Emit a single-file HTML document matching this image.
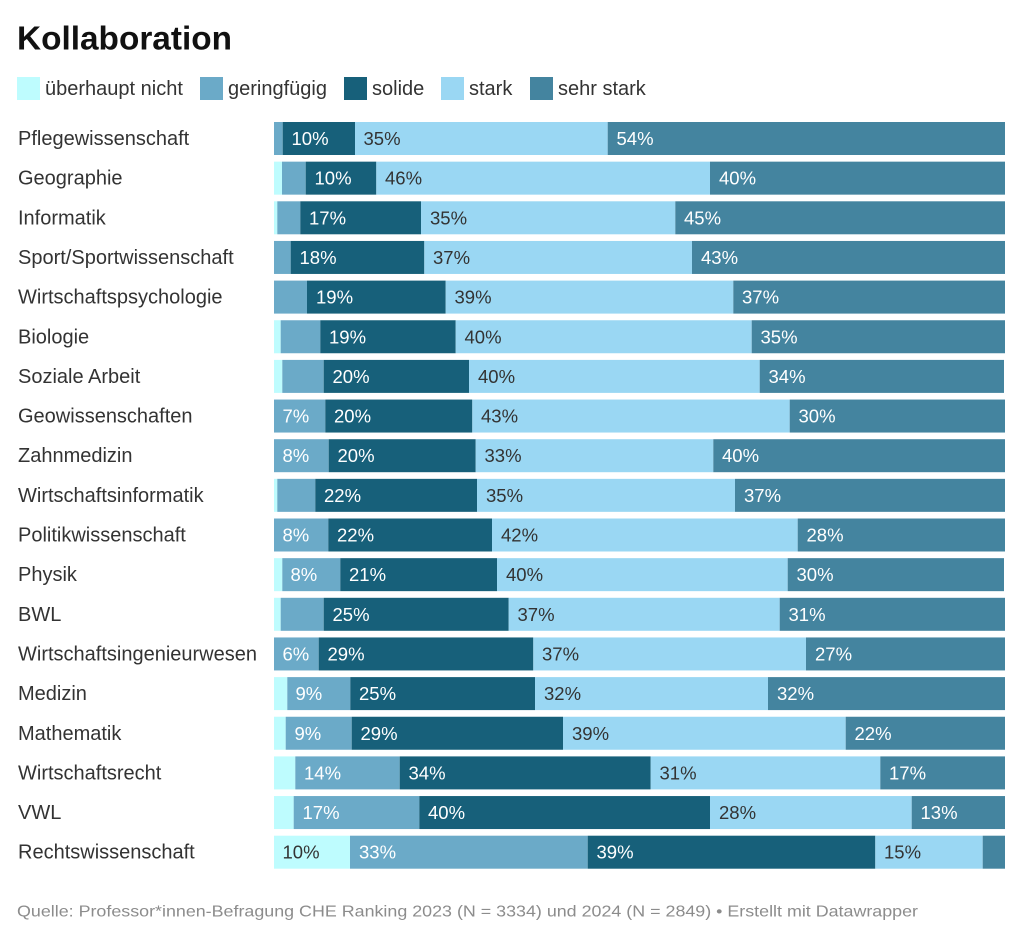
<!DOCTYPE html>
<html><head><meta charset="utf-8"><style>
html,body{margin:0;padding:0;background:#fff;}
svg{display:block;font-family:"Liberation Sans",Arial,sans-serif;}
.lab{font-size:20px;fill:#333;}
.v{font-size:18.5px;}
.w{fill:#fff;}
.d{fill:#333;}
</style></head><body>
<svg width="1024" height="941" viewBox="0 0 1024 941" xmlns="http://www.w3.org/2000/svg">
<text x="17" y="49.5" font-size="33" font-weight="bold" fill="#111" textLength="215" lengthAdjust="spacingAndGlyphs">Kollaboration</text>
<!-- legend -->
<rect x="17" y="77" width="23" height="23" fill="#befcfe"/>
<text x="45" y="95" class="lab">überhaupt nicht</text>
<rect x="200" y="77" width="23" height="23" fill="#6baac8"/>
<text x="228" y="95" class="lab">geringfügig</text>
<rect x="344" y="77" width="23" height="23" fill="#17607a"/>
<text x="372" y="95" class="lab">solide</text>
<rect x="441" y="77" width="23" height="23" fill="#9ad7f3"/>
<text x="469" y="95" class="lab">stark</text>
<rect x="530" y="77" width="23" height="23" fill="#44849f"/>
<text x="558" y="95" class="lab">sehr stark</text>
<text x="17" y="916.5" font-size="16" fill="#8c8c8c" textLength="901" lengthAdjust="spacingAndGlyphs">Quelle: Professor*innen-Befragung CHE Ranking 2023 (N = 3334) und 2024 (N = 2849) • Erstellt mit Datawrapper</text>

<!-- Row 1 -->
<g transform="translate(0,122)">
<text x="18" y="23" class="lab">Pflegewissenschaft</text>
<rect x="274" y="0" width="8.7" height="33" fill="#6baac8"/>
<rect x="282.7" y="0" width="72.3" height="33" fill="#17607a"/>
<rect x="355" y="0" width="252.7" height="33" fill="#9ad7f3"/>
<rect x="607.7" y="0" width="397.3" height="33" fill="#44849f"/>
<text x="291.5" y="23" class="v w">10%</text>
<text x="363.5" y="23" class="v d">35%</text>
<text x="616.5" y="23" class="v w">54%</text>
</g>
<!-- Row 2 -->
<g transform="translate(0,161.65)">
<text x="18" y="23" class="lab">Geographie</text>
<rect x="274" y="0" width="8" height="33" fill="#befcfe"/>
<rect x="282" y="0" width="23.7" height="33" fill="#6baac8"/>
<rect x="305.7" y="0" width="70.6" height="33" fill="#17607a"/>
<rect x="376.3" y="0" width="333.7" height="33" fill="#9ad7f3"/>
<rect x="710" y="0" width="295" height="33" fill="#44849f"/>
<text x="314.5" y="23" class="v w">10%</text>
<text x="385" y="23" class="v d">46%</text>
<text x="719" y="23" class="v w">40%</text>
</g>
<!-- Row 3 -->
<g transform="translate(0,201.3)">
<text x="18" y="23" class="lab">Informatik</text>
<rect x="274" y="0" width="3.3" height="33" fill="#befcfe"/>
<rect x="277.3" y="0" width="23" height="33" fill="#6baac8"/>
<rect x="300.3" y="0" width="120.7" height="33" fill="#17607a"/>
<rect x="421" y="0" width="254.3" height="33" fill="#9ad7f3"/>
<rect x="675.3" y="0" width="329.7" height="33" fill="#44849f"/>
<text x="309" y="23" class="v w">17%</text>
<text x="430" y="23" class="v d">35%</text>
<text x="684" y="23" class="v w">45%</text>
</g>
<!-- Row 4 -->
<g transform="translate(0,240.95)">
<text x="18" y="23" class="lab">Sport/Sportwissenschaft</text>
<rect x="274" y="0" width="16.7" height="33" fill="#6baac8"/>
<rect x="290.7" y="0" width="133.6" height="33" fill="#17607a"/>
<rect x="424.3" y="0" width="267.7" height="33" fill="#9ad7f3"/>
<rect x="692" y="0" width="313" height="33" fill="#44849f"/>
<text x="299.5" y="23" class="v w">18%</text>
<text x="433" y="23" class="v d">37%</text>
<text x="701" y="23" class="v w">43%</text>
</g>
<!-- Row 5 -->
<g transform="translate(0,280.6)">
<text x="18" y="23" class="lab">Wirtschaftspsychologie</text>
<rect x="274" y="0" width="33" height="33" fill="#6baac8"/>
<rect x="307" y="0" width="138.7" height="33" fill="#17607a"/>
<rect x="445.7" y="0" width="287.6" height="33" fill="#9ad7f3"/>
<rect x="733.3" y="0" width="271.7" height="33" fill="#44849f"/>
<text x="316" y="23" class="v w">19%</text>
<text x="454.5" y="23" class="v d">39%</text>
<text x="742" y="23" class="v w">37%</text>
</g>
<!-- Row 6 -->
<g transform="translate(0,320.25)">
<text x="18" y="23" class="lab">Biologie</text>
<rect x="274" y="0" width="6.7" height="33" fill="#befcfe"/>
<rect x="280.7" y="0" width="39.6" height="33" fill="#6baac8"/>
<rect x="320.3" y="0" width="135.4" height="33" fill="#17607a"/>
<rect x="455.7" y="0" width="296" height="33" fill="#9ad7f3"/>
<rect x="751.7" y="0" width="253.3" height="33" fill="#44849f"/>
<text x="329" y="23" class="v w">19%</text>
<text x="464.5" y="23" class="v d">40%</text>
<text x="760.5" y="23" class="v w">35%</text>
</g>
<!-- Row 7 -->
<g transform="translate(0,359.9)">
<text x="18" y="23" class="lab">Soziale Arbeit</text>
<rect x="274" y="0" width="8.3" height="33" fill="#befcfe"/>
<rect x="282.3" y="0" width="41.4" height="33" fill="#6baac8"/>
<rect x="323.7" y="0" width="145.3" height="33" fill="#17607a"/>
<rect x="469" y="0" width="290.7" height="33" fill="#9ad7f3"/>
<rect x="759.7" y="0" width="244.3" height="33" fill="#44849f"/>
<text x="332.5" y="23" class="v w">20%</text>
<text x="478" y="23" class="v d">40%</text>
<text x="768.5" y="23" class="v w">34%</text>
</g>
<!-- Row 8 -->
<g transform="translate(0,399.55)">
<text x="18" y="23" class="lab">Geowissenschaften</text>
<rect x="274" y="0" width="51.3" height="33" fill="#6baac8"/>
<rect x="325.3" y="0" width="147" height="33" fill="#17607a"/>
<rect x="472.3" y="0" width="317.4" height="33" fill="#9ad7f3"/>
<rect x="789.7" y="0" width="215.3" height="33" fill="#44849f"/>
<text x="282.5" y="23" class="v w">7%</text>
<text x="334" y="23" class="v w">20%</text>
<text x="481" y="23" class="v d">43%</text>
<text x="798.5" y="23" class="v w">30%</text>
</g>
<!-- Row 9 -->
<g transform="translate(0,439.2)">
<text x="18" y="23" class="lab">Zahnmedizin</text>
<rect x="274" y="0" width="54.7" height="33" fill="#6baac8"/>
<rect x="328.7" y="0" width="147" height="33" fill="#17607a"/>
<rect x="475.7" y="0" width="237.6" height="33" fill="#9ad7f3"/>
<rect x="713.3" y="0" width="291.7" height="33" fill="#44849f"/>
<text x="282.5" y="23" class="v w">8%</text>
<text x="337.5" y="23" class="v w">20%</text>
<text x="484.5" y="23" class="v d">33%</text>
<text x="722" y="23" class="v w">40%</text>
</g>
<!-- Row 10 -->
<g transform="translate(0,478.85)">
<text x="18" y="23" class="lab">Wirtschaftsinformatik</text>
<rect x="274" y="0" width="3.3" height="33" fill="#befcfe"/>
<rect x="277.3" y="0" width="38" height="33" fill="#6baac8"/>
<rect x="315.3" y="0" width="161.7" height="33" fill="#17607a"/>
<rect x="477" y="0" width="258" height="33" fill="#9ad7f3"/>
<rect x="735" y="0" width="270" height="33" fill="#44849f"/>
<text x="324" y="23" class="v w">22%</text>
<text x="486" y="23" class="v d">35%</text>
<text x="744" y="23" class="v w">37%</text>
</g>
<!-- Row 11 -->
<g transform="translate(0,518.5)">
<text x="18" y="23" class="lab">Politikwissenschaft</text>
<rect x="274" y="0" width="54.3" height="33" fill="#6baac8"/>
<rect x="328.3" y="0" width="163.7" height="33" fill="#17607a"/>
<rect x="492" y="0" width="305.7" height="33" fill="#9ad7f3"/>
<rect x="797.7" y="0" width="207.3" height="33" fill="#44849f"/>
<text x="282.5" y="23" class="v w">8%</text>
<text x="337" y="23" class="v w">22%</text>
<text x="501" y="23" class="v d">42%</text>
<text x="806.5" y="23" class="v w">28%</text>
</g>
<!-- Row 12 -->
<g transform="translate(0,558.15)">
<text x="18" y="23" class="lab">Physik</text>
<rect x="274" y="0" width="8.3" height="33" fill="#befcfe"/>
<rect x="282.3" y="0" width="58" height="33" fill="#6baac8"/>
<rect x="340.3" y="0" width="156.7" height="33" fill="#17607a"/>
<rect x="497" y="0" width="290.7" height="33" fill="#9ad7f3"/>
<rect x="787.7" y="0" width="216.3" height="33" fill="#44849f"/>
<text x="290.5" y="23" class="v w">8%</text>
<text x="349" y="23" class="v w">21%</text>
<text x="506" y="23" class="v d">40%</text>
<text x="796.5" y="23" class="v w">30%</text>
</g>
<!-- Row 13 -->
<g transform="translate(0,597.8)">
<text x="18" y="23" class="lab">BWL</text>
<rect x="274" y="0" width="6.7" height="33" fill="#befcfe"/>
<rect x="280.7" y="0" width="43" height="33" fill="#6baac8"/>
<rect x="323.7" y="0" width="185" height="33" fill="#17607a"/>
<rect x="508.7" y="0" width="271" height="33" fill="#9ad7f3"/>
<rect x="779.7" y="0" width="225.3" height="33" fill="#44849f"/>
<text x="332.5" y="23" class="v w">25%</text>
<text x="517.5" y="23" class="v d">37%</text>
<text x="788.5" y="23" class="v w">31%</text>
</g>
<!-- Row 14 -->
<g transform="translate(0,637.45)">
<text x="18" y="23" class="lab">Wirtschaftsingenieurwesen</text>
<rect x="274" y="0" width="44.7" height="33" fill="#6baac8"/>
<rect x="318.7" y="0" width="214.6" height="33" fill="#17607a"/>
<rect x="533.3" y="0" width="272.7" height="33" fill="#9ad7f3"/>
<rect x="806" y="0" width="199" height="33" fill="#44849f"/>
<text x="282.5" y="23" class="v w">6%</text>
<text x="327.5" y="23" class="v w">29%</text>
<text x="542" y="23" class="v d">37%</text>
<text x="815" y="23" class="v w">27%</text>
</g>
<!-- Row 15 -->
<g transform="translate(0,677.1)">
<text x="18" y="23" class="lab">Medizin</text>
<rect x="274" y="0" width="13.3" height="33" fill="#befcfe"/>
<rect x="287.3" y="0" width="63" height="33" fill="#6baac8"/>
<rect x="350.3" y="0" width="184.7" height="33" fill="#17607a"/>
<rect x="535" y="0" width="233" height="33" fill="#9ad7f3"/>
<rect x="768" y="0" width="237" height="33" fill="#44849f"/>
<text x="295.5" y="23" class="v w">9%</text>
<text x="359" y="23" class="v w">25%</text>
<text x="544" y="23" class="v d">32%</text>
<text x="777" y="23" class="v w">32%</text>
</g>
<!-- Row 16 -->
<g transform="translate(0,716.75)">
<text x="18" y="23" class="lab">Mathematik</text>
<rect x="274" y="0" width="11.7" height="33" fill="#befcfe"/>
<rect x="285.7" y="0" width="66" height="33" fill="#6baac8"/>
<rect x="351.7" y="0" width="211.3" height="33" fill="#17607a"/>
<rect x="563" y="0" width="282.7" height="33" fill="#9ad7f3"/>
<rect x="845.7" y="0" width="159.3" height="33" fill="#44849f"/>
<text x="294.5" y="23" class="v w">9%</text>
<text x="360.5" y="23" class="v w">29%</text>
<text x="572" y="23" class="v d">39%</text>
<text x="854.5" y="23" class="v w">22%</text>
</g>
<!-- Row 17 -->
<g transform="translate(0,756.4)">
<text x="18" y="23" class="lab">Wirtschaftsrecht</text>
<rect x="274" y="0" width="21.3" height="33" fill="#befcfe"/>
<rect x="295.3" y="0" width="104.4" height="33" fill="#6baac8"/>
<rect x="399.7" y="0" width="251" height="33" fill="#17607a"/>
<rect x="650.7" y="0" width="229.6" height="33" fill="#9ad7f3"/>
<rect x="880.3" y="0" width="124.7" height="33" fill="#44849f"/>
<text x="304" y="23" class="v w">14%</text>
<text x="408.5" y="23" class="v w">34%</text>
<text x="659.5" y="23" class="v d">31%</text>
<text x="889" y="23" class="v w">17%</text>
</g>
<!-- Row 18 -->
<g transform="translate(0,796.05)">
<text x="18" y="23" class="lab">VWL</text>
<rect x="274" y="0" width="19.7" height="33" fill="#befcfe"/>
<rect x="293.7" y="0" width="125.6" height="33" fill="#6baac8"/>
<rect x="419.3" y="0" width="290.7" height="33" fill="#17607a"/>
<rect x="710" y="0" width="201.7" height="33" fill="#9ad7f3"/>
<rect x="911.7" y="0" width="93.3" height="33" fill="#44849f"/>
<text x="302.5" y="23" class="v w">17%</text>
<text x="428" y="23" class="v w">40%</text>
<text x="719" y="23" class="v d">28%</text>
<text x="920.5" y="23" class="v w">13%</text>
</g>
<!-- Row 19 -->
<g transform="translate(0,835.7)">
<text x="18" y="23" class="lab">Rechtswissenschaft</text>
<rect x="274" y="0" width="76" height="33" fill="#befcfe"/>
<rect x="350" y="0" width="237.7" height="33" fill="#6baac8"/>
<rect x="587.7" y="0" width="287.6" height="33" fill="#17607a"/>
<rect x="875.3" y="0" width="107.4" height="33" fill="#9ad7f3"/>
<rect x="982.7" y="0" width="22.3" height="33" fill="#44849f"/>
<text x="282.5" y="23" class="v d">10%</text>
<text x="359" y="23" class="v w">33%</text>
<text x="596.5" y="23" class="v w">39%</text>
<text x="884" y="23" class="v d">15%</text>
</g>
</svg>
</body></html>
